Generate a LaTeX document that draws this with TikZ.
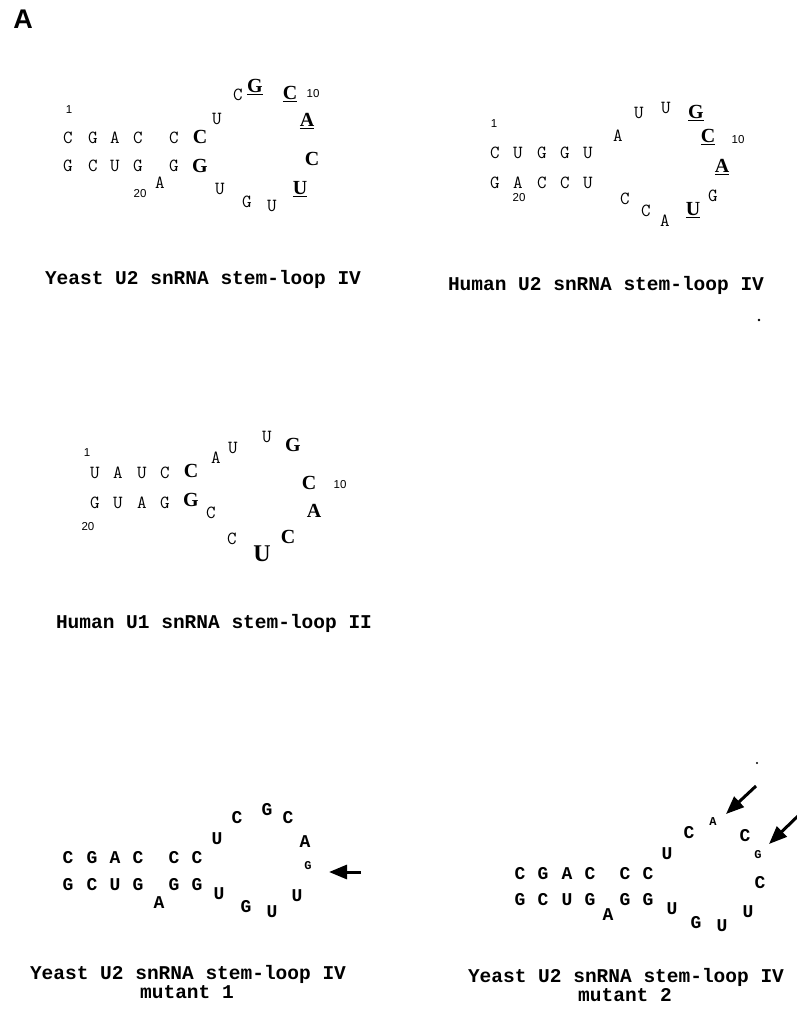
\documentclass[tikz,border=0pt]{standalone}
\usepackage{fontspec}
\usetikzlibrary{arrows.meta}
\newfontfamily\monofnt{Liberation Mono}
\newfontfamily\tmsfnt{Liberation Serif}
\newfontfamily\sansfnt{Liberation Sans}
\tikzset{
  nt/.style={font=\ttfamily\fontsize{18.5}{19}\selectfont, inner sep=0pt, text height=10.5pt, text depth=0pt},
  bb/.style={font=\tmsfnt\bfseries\fontsize{20}{22}\selectfont, inner sep=0pt, text height=13pt, text depth=0pt},
  bbL/.style={font=\tmsfnt\bfseries\fontsize{24}{26}\selectfont, inner sep=0pt, text height=16pt, text depth=0pt},
  mt/.style={font=\monofnt\bfseries\fontsize{18}{20}\selectfont, inner sep=0pt, text height=10.5pt, text depth=0pt},
  sm/.style={font=\monofnt\bfseries\fontsize{12}{14}\selectfont, inner sep=0pt, text height=7pt, text depth=0pt},
  num/.style={font=\sansfnt\fontsize{11.5}{12}\selectfont, inner sep=0pt, text height=8.2pt, text depth=0pt},
  ttl/.style={font=\monofnt\bfseries\fontsize{19.5}{20}\selectfont, inner sep=0pt, text height=11pt, text depth=0pt},
  bigarrow/.style={line width=3pt, -{Triangle[length=18pt,width=14pt]}},
  speck/.style={fill=black, draw=none}
}
\begin{document}
\begin{tikzpicture}[x=1pt,y=-1pt]
\useasboundingbox (0,0) rectangle (797,1009);
\node[font=\sansfnt\bfseries\fontsize{27}{28}\selectfont, inner sep=0pt, text height=19.5pt, text depth=0pt] (lab) at (23,19) {A};

% ---------- Panel 1: Yeast U2 snRNA stem-loop IV ----------
\node[num] (a1) at (69,109) {1};
\node[nt] (a01) at (68,138) {C};
\node[nt] (a02) at (93,138) {G};
\node[nt] (a03) at (115,138) {A};
\node[nt] (a04) at (138,138) {C};
\node[nt] (a05) at (174,138) {C};
\node[bb] (a06) at (200,137) {C};
\node[nt] (a07) at (217,119) {U};
\node[nt] (a08) at (238,95) {C};
\node[bb] (a09) at (255,86) {\underline{G}};
\node[bb] (a10) at (290,93) {\underline{C}};
\node[num] (a10n) at (313,93) {10};
\node[bb] (a11) at (307,120) {\underline{A}};
\node[bb] (a12) at (312,159) {C};
\node[bb] (a13) at (300,188) {\underline{U}};
\node[nt] (a14) at (272,206) {U};
\node[nt] (a15) at (247,202) {G};
\node[nt] (a16) at (220,189) {U};
\node[bb] (a17) at (200,166) {G};
\node[nt] (a18) at (174,166) {G};
\node[nt] (a19) at (160,183) {A};
\node[num] (a20n) at (140,193) {20};
\node[nt] (a20) at (138,166) {G};
\node[nt] (a21) at (115,166) {U};
\node[nt] (a22) at (93,166) {C};
\node[nt] (a23) at (68,166) {G};
\node[ttl] (ta) at (203,279) {Yeast U2 snRNA stem-loop IV};

% ---------- Panel 2: Human U2 snRNA stem-loop IV ----------
\node[num] (b1) at (494,123) {1};
\node[nt] (b01) at (495,153) {C};
\node[nt] (b02) at (518,153) {U};
\node[nt] (b03) at (542,153) {G};
\node[nt] (b04) at (565,153) {G};
\node[nt] (b05) at (588,153) {U};
\node[nt] (b06) at (618,136) {A};
\node[nt] (b07) at (639,113) {U};
\node[nt] (b08) at (666,108) {U};
\node[bb] (b09) at (696,112) {\underline{G}};
\node[bb] (b10) at (708,136) {\underline{C}};
\node[num] (b10n) at (738,139) {10};
\node[bb] (b11) at (722,166) {\underline{A}};
\node[nt] (b12) at (713,196) {G};
\node[bb] (b13) at (693,209) {\underline{U}};
\node[nt] (b14) at (665,221) {A};
\node[nt] (b15) at (646,211) {C};
\node[nt] (b16) at (625,199) {C};
\node[nt] (b17) at (588,183) {U};
\node[nt] (b18) at (565,183) {C};
\node[nt] (b19) at (542,183) {C};
\node[nt] (b20) at (518,183) {A};
\node[num] (b20n) at (519,197) {20};
\node[nt] (b21) at (495,183) {G};
\node[ttl] (tb) at (606,285) {Human U2 snRNA stem-loop IV};
\fill[speck] (759,320) circle (1.3pt);

% ---------- Panel 3: Human U1 snRNA stem-loop II ----------
\node[num] (c1) at (87,452) {1};
\node[nt] (c01) at (95,473) {U};
\node[nt] (c02) at (118,473) {A};
\node[nt] (c03) at (142,473) {U};
\node[nt] (c04) at (165,473) {C};
\node[bb] (c05) at (191,471) {C};
\node[nt] (c06) at (216,458) {A};
\node[nt] (c07) at (233,448) {U};
\node[nt] (c08) at (267,437) {U};
\node[bb] (c09) at (293,445) {G};
\node[bb] (c10) at (309,483) {C};
\node[num] (c10n) at (340,484) {10};
\node[bb] (c11) at (314,511) {A};
\node[bb] (c12) at (288,537) {C};
\node[bbL] (c13) at (262,553) {U};
\node[nt] (c14) at (232,539) {C};
\node[nt] (c15) at (211,513) {C};
\node[bb] (c16) at (191,500) {G};
\node[nt] (c17) at (165,503) {G};
\node[nt] (c18) at (142,503) {A};
\node[nt] (c19) at (118,503) {U};
\node[nt] (c20) at (95,503) {G};
\node[num] (c20n) at (88,526) {20};
\node[ttl] (tc) at (214,623) {Human U1 snRNA stem-loop II};

% ---------- Panel 4: mutant 1 ----------
\node[mt] (d01) at (68,858) {C};
\node[mt] (d02) at (92,858) {G};
\node[mt] (d03) at (115,858) {A};
\node[mt] (d04) at (138,858) {C};
\node[mt] (d05) at (174,858) {C};
\node[mt] (d06) at (197,858) {C};
\node[mt] (d07) at (217,839) {U};
\node[mt] (d08) at (237,818) {C};
\node[mt] (d09) at (267,810) {G};
\node[mt] (d10) at (288,818) {C};
\node[mt] (d11) at (305,842) {A};
\node[sm] (d12) at (308,866) {G};
\node[mt] (d13) at (297,896) {U};
\node[mt] (d14) at (272,912) {U};
\node[mt] (d15) at (246,907) {G};
\node[mt] (d16) at (219,894) {U};
\node[mt] (d17) at (197,885) {G};
\node[mt] (d18) at (174,885) {G};
\node[mt] (d19) at (159,903) {A};
\node[mt] (d20) at (138,885) {G};
\node[mt] (d21) at (115,885) {U};
\node[mt] (d22) at (92,885) {C};
\node[mt] (d23) at (68,885) {G};
\coordinate (d12tail) at (361,872);
\coordinate (d12tip) at (329,872);
\draw[bigarrow] (d12tail) -- (d12tip);
\node[ttl] (td1) at (188,974) {Yeast U2 snRNA stem-loop IV};
\node[ttl] (td2) at (187,993) {mutant 1};

% ---------- Panel 5: mutant 2 ----------
\node[mt] (e01) at (520,874) {C};
\node[mt] (e02) at (543,874) {G};
\node[mt] (e03) at (567,874) {A};
\node[mt] (e04) at (590,874) {C};
\node[mt] (e05) at (625,874) {C};
\node[mt] (e06) at (648,874) {C};
\node[mt] (e07) at (667,854) {U};
\node[mt] (e08) at (689,833) {C};
\node[sm] (e09) at (713,822) {A};
\node[mt] (e10) at (745,836) {C};
\node[sm] (e11) at (758,855) {G};
\node[mt] (e12) at (760,883) {C};
\node[mt] (e13) at (748,912) {U};
\node[mt] (e14) at (722,926) {U};
\node[mt] (e15) at (696,923) {G};
\node[mt] (e16) at (672,909) {U};
\node[mt] (e17) at (648,900) {G};
\node[mt] (e18) at (625,900) {G};
\node[mt] (e19) at (608,915) {A};
\node[mt] (e20) at (590,900) {G};
\node[mt] (e21) at (567,900) {U};
\node[mt] (e22) at (543,900) {C};
\node[mt] (e23) at (520,900) {G};
\coordinate (e09tail) at (756,786);
\coordinate (e09tip) at (726,814);
\draw[bigarrow] (e09tail) -- (e09tip);
\coordinate (e11tail) at (800,814);
\coordinate (e11tip) at (769,844);
\draw[bigarrow] (e11tail) -- (e11tip);
\fill[speck] (757,763) circle (1.2pt);
\node[ttl] (te1) at (626,977) {Yeast U2 snRNA stem-loop IV};
\node[ttl] (te2) at (625,996) {mutant 2};
\end{tikzpicture}
\end{document}
